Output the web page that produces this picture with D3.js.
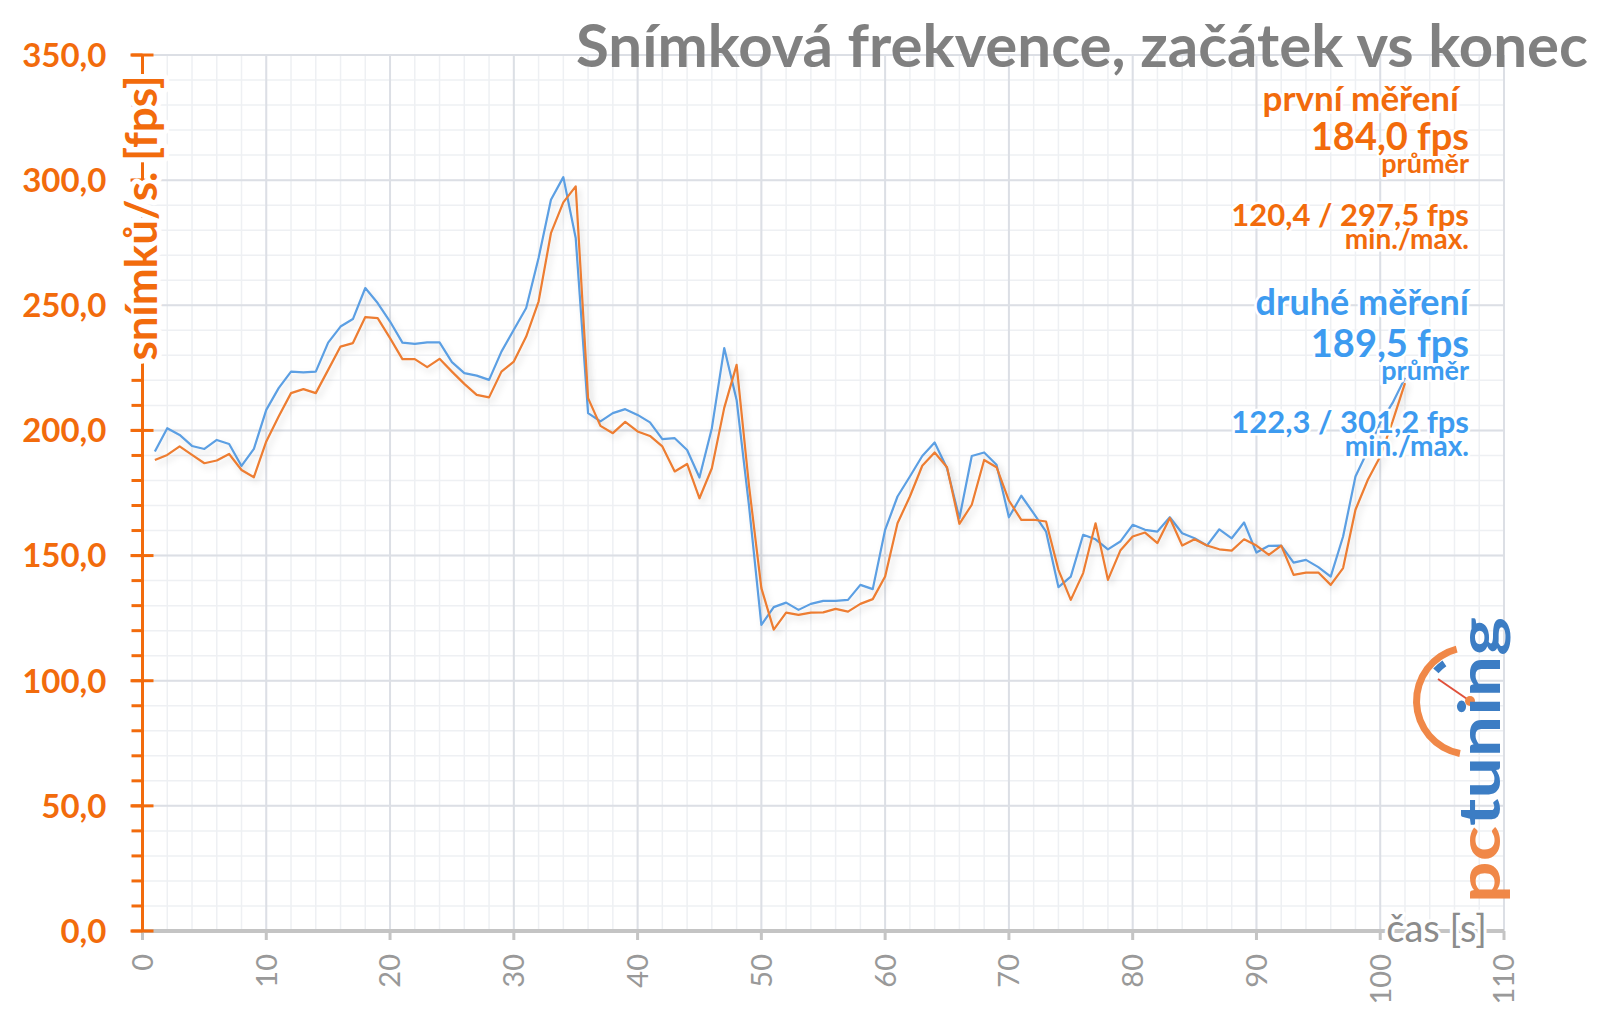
<!DOCTYPE html>
<html>
<head>
<meta charset="utf-8">
<script src="https://cdn.jsdelivr.net/npm/d3@7"></script>
<style>
  body { margin: 0; background: #fff; }
  svg { display: block; }
  text { font-family: Lato, "Open Sans", sans-serif; }
</style>
</head>
<body>
<svg id="vis" width="1600" height="1015"></svg>
<script>
// first measurement (orange), one value per second, t = 1..102
const FIRST = [
    188.2, 190.2, 193.6, 190.2, 186.9, 188.0, 190.6, 184.2, 181.3, 195.6,
    205.6, 214.9, 216.5, 214.9, 224.2, 233.5, 234.9, 245.3, 244.9, 236.9,
    228.5, 228.5, 225.3, 228.6, 223.5, 218.6, 214.2, 213.2, 223.5, 227.5,
    237.5, 251.5, 278.8, 291.1, 297.5, 212.9, 201.8, 198.9, 203.4, 199.6,
    197.8, 193.6, 183.6, 186.6, 172.9, 184.9, 209.0, 226.2, 178.0, 137.0,
    120.4, 127.2, 126.3, 127.2, 127.3, 128.7, 127.6, 130.7, 132.6, 141.6,
    162.9, 173.6, 185.9, 191.2, 185.3, 162.7, 170.3, 188.2, 185.3, 172.0,
    164.3, 164.3, 163.6, 144.3, 132.3, 143.0, 162.9, 140.3, 152.0, 157.6,
    159.2, 155.0, 165.0, 154.0, 156.5, 154.0, 152.5, 152.0, 156.5, 154.0,
    150.3, 154.0, 142.3, 143.2, 143.2, 138.3, 145.0, 168.3, 180.3, 189.6,
    203.6, 218.9
];
// second measurement (blue)
const SECOND = [
    191.6, 200.9, 198.2, 193.8, 192.6, 196.2, 194.6, 185.8, 192.6, 208.2,
    216.9, 223.5, 223.2, 223.5, 235.1, 241.5, 244.5, 256.9, 250.9, 243.5,
    235.1, 234.6, 235.2, 235.2, 227.3, 222.9, 221.9, 220.2, 231.5, 240.2,
    248.9, 268.9, 292.2, 301.2, 276.9, 206.9, 203.6, 206.9, 208.5, 206.2,
    203.2, 196.5, 196.9, 192.2, 181.2, 200.9, 232.9, 212.2, 170.0, 122.3,
    129.4, 131.2, 128.3, 130.7, 131.9, 131.9, 132.3, 138.3, 136.6, 160.3,
    173.6, 181.6, 189.8, 195.2, 184.9, 164.9, 189.8, 191.2, 186.3, 165.3,
    173.9, 166.9, 159.6, 137.4, 141.6, 158.3, 156.5, 152.5, 155.6, 162.3,
    160.3, 159.6, 165.3, 158.9, 156.9, 154.0, 160.5, 156.9, 163.2, 151.2,
    153.9, 154.0, 147.2, 148.3, 145.4, 141.6, 157.6, 181.6, 192.0, 203.0,
    211.0, 221.0
];
const SECONDS = d3.range(1, FIRST.length + 1);

const Y_TICKS = [0, 50, 100, 150, 200, 250, 300, 350];
const X_TICKS = [0, 10, 20, 30, 40, 50, 60, 70, 80, 90, 100, 110];

const TITLE = "Snímková frekvence, začátek vs konec";
const Y_TITLE = "snímků/s. [fps]";
const X_TITLE = "čas [s]";

const LEGEND_FIRST = ["první měření", "184,0 fps", "průměr", "120,4 / 297,5 fps", "min./max."];
const LEGEND_SECOND = ["druhé měření", "189,5 fps", "průměr", "122,3 / 301,2 fps", "min./max."];

const ORANGE = "#ED7D31";
const BLUE = "#5B9FE3";
const ORANGE_TXT = "#F26B0C";
const BLUE_TXT = "#3D9BF0";
const GREY = "#8c8c8c";

const svg = d3.select("#vis");
const xscale = d3.scaleLinear().domain([0, 110]).range([142.5, 1504]);
const yscale = d3.scaleLinear().domain([0, 350]).range([931, 55]);

const fmt = d => d3.format(".1f")(d).replace(".", ",");

function halo(sel, w) {
    return sel.attr("stroke", "#fff").attr("stroke-width", w)
        .attr("stroke-linejoin", "round").attr("paint-order", "stroke");
}

function main() {
    drawGrid();
    drawLines();
    drawAxes();
    drawLegend();
    drawLogo();
}

function drawGrid() {
    const g = svg.append("g");
    // minor grid
    g.selectAll(".vminor").data(d3.range(0, 111, 2)).join("line")
        .attr("x1", d => xscale(d)).attr("x2", d => xscale(d))
        .attr("y1", yscale(0)).attr("y2", yscale(350))
        .attr("stroke", "#eef0f3").attr("stroke-width", 1.5);
    g.selectAll(".hminor").data(d3.range(0, 351, 10)).join("line")
        .attr("x1", xscale(0)).attr("x2", xscale(110))
        .attr("y1", d => yscale(d)).attr("y2", d => yscale(d))
        .attr("stroke", "#eef0f3").attr("stroke-width", 1.5);
    // major grid
    g.selectAll(".vmajor").data(X_TICKS).join("line")
        .attr("x1", d => xscale(d)).attr("x2", d => xscale(d))
        .attr("y1", yscale(0)).attr("y2", yscale(350))
        .attr("stroke", "#dcdfe5").attr("stroke-width", 2);
    g.selectAll(".hmajor").data(Y_TICKS).join("line")
        .attr("x1", xscale(0)).attr("x2", xscale(110))
        .attr("y1", d => yscale(d)).attr("y2", d => yscale(d))
        .attr("stroke", "#dcdfe5").attr("stroke-width", 2);
}

function drawLines() {
    const defs = svg.append("defs");
    defs.append("filter").attr("id", "shadow")
        .attr("x", "-5%").attr("y", "-5%").attr("width", "110%").attr("height", "120%")
        .append("feDropShadow")
        .attr("dx", 3).attr("dy", 4).attr("stdDeviation", 3)
        .attr("flood-color", "#000").attr("flood-opacity", 0.13);

    const line = d3.line().x(d => xscale(d[0])).y(d => yscale(d[1]));
    const series = [
        {values: SECOND, color: BLUE},
        {values: FIRST, color: ORANGE}
    ];
    svg.selectAll(".series").data(series).join("path")
        .attr("class", "series")
        .attr("d", d => line(d.values.map((v, i) => [SECONDS[i], v])))
        .attr("fill", "none")
        .attr("stroke", d => d.color)
        .attr("stroke-width", 2.2)
        .attr("stroke-linejoin", "round")
        .attr("filter", "url(#shadow)");
}

function drawAxes() {
    // x axis
    const xg = svg.append("g").attr("transform", `translate(0,${yscale(0)})`);
    xg.append("line")
        .attr("x1", xscale(0)).attr("x2", xscale(110))
        .attr("stroke", "#c4c4c4").attr("stroke-width", 4);
    xg.selectAll(".xtick").data(X_TICKS).join("line")
        .attr("x1", d => xscale(d)).attr("x2", d => xscale(d))
        .attr("y1", 0).attr("y2", 9)
        .attr("stroke", "#c4c4c4").attr("stroke-width", 3);
    xg.selectAll(".xlabel").data(X_TICKS).join("text")
        .attr("transform", d => `translate(${xscale(d)},23) rotate(-90)`)
        .attr("text-anchor", "end")
        .attr("dy", "0.36em")
        .attr("fill", "#999")
        .style("font-size", "29px")
        .text(d => d);
    halo(svg.append("text")
        .attr("x", 1487).attr("y", 942)
        .attr("text-anchor", "end")
        .attr("fill", GREY)
        .style("font-size", "38px")
        .text(X_TITLE), 6);

    // y axis
    const yg = svg.append("g").attr("transform", `translate(${xscale(0)},0)`);
    yg.append("line")
        .attr("y1", yscale(0)).attr("y2", yscale(350))
        .attr("stroke", ORANGE_TXT).attr("stroke-width", 3);
    yg.selectAll(".yminor").data(d3.range(0, 351, 10)).join("line")
        .attr("x1", -11).attr("x2", 0)
        .attr("y1", d => yscale(d)).attr("y2", d => yscale(d))
        .attr("stroke", ORANGE_TXT).attr("stroke-width", 3);
    yg.selectAll(".ymajor").data(Y_TICKS).join("line")
        .attr("x1", -12).attr("x2", 11)
        .attr("y1", d => yscale(d)).attr("y2", d => yscale(d))
        .attr("stroke", ORANGE_TXT).attr("stroke-width", 3);
    yg.selectAll(".ylabel").data(Y_TICKS).join("text")
        .attr("x", -36).attr("y", d => yscale(d))
        .attr("dy", "0.36em")
        .attr("text-anchor", "end")
        .attr("fill", ORANGE_TXT)
        .style("font-size", "33px").style("font-weight", 700)
        .text(fmt);
    halo(yg.append("text")
        .attr("transform", `translate(14,218) rotate(-90)`)
        .attr("text-anchor", "middle")
        .attr("fill", ORANGE_TXT)
        .style("font-size", "44px").style("font-weight", 700)
        .text(Y_TITLE), 10);

    // title
    svg.append("text")
        .attr("x", 1588).attr("y", 67)
        .attr("text-anchor", "end")
        .attr("textLength", 1012).attr("lengthAdjust", "spacingAndGlyphs")
        .attr("fill", "#808080")
        .style("font-size", "59px").style("font-weight", 700)
        .text(TITLE);
}

function drawLegend() {
    const rows = [
        {text: LEGEND_FIRST[0], y: 111, size: 35, color: ORANGE_TXT, dx: -10},
        {text: LEGEND_FIRST[1], y: 150, size: 38, color: ORANGE_TXT, dx: 0},
        {text: LEGEND_FIRST[2], y: 173, size: 27, color: ORANGE_TXT, dx: 0},
        {text: LEGEND_FIRST[3], y: 226, size: 31, color: ORANGE_TXT, dx: 0},
        {text: LEGEND_FIRST[4], y: 249, size: 28, color: ORANGE_TXT, dx: 0},
        {text: LEGEND_SECOND[0], y: 315, size: 36, color: BLUE_TXT, dx: 0},
        {text: LEGEND_SECOND[1], y: 357, size: 38, color: BLUE_TXT, dx: 0},
        {text: LEGEND_SECOND[2], y: 380, size: 27, color: BLUE_TXT, dx: 0},
        {text: LEGEND_SECOND[3], y: 433, size: 31, color: BLUE_TXT, dx: 0},
        {text: LEGEND_SECOND[4], y: 456, size: 28, color: BLUE_TXT, dx: 0}
    ];
    halo(svg.selectAll(".legend").data(rows).join("text")
        .attr("class", "legend")
        .attr("x", d => 1469 + d.dx).attr("y", d => d.y)
        .attr("text-anchor", "end")
        .attr("fill", d => d.color)
        .style("font-size", d => d.size + "px").style("font-weight", 700)
        .text(d => d.text), 5);
}

function drawLogo() {
    const g = svg.append("g");
    const cx = 1470, cy = 701;
    g.append("path")
        .attr("transform", `translate(${cx},${cy})`)
        .attr("d", d3.arc().innerRadius(50).outerRadius(57)
            .startAngle(-Math.PI * 0.94).endAngle(-Math.PI * 0.08)())
        .attr("fill", "#F08848");
    g.append("path")
        .attr("transform", `translate(${cx},${cy})`)
        .attr("d", d3.arc().innerRadius(42).outerRadius(49)
            .startAngle(-Math.PI * 0.27).endAngle(-Math.PI * 0.19)())
        .attr("fill", "#3C7DC4");
    g.append("line")
        .attr("x1", cx).attr("y1", cy).attr("x2", cx - 32).attr("y2", cy - 22)
        .attr("stroke", "#E0503A").attr("stroke-width", 2);
    g.append("circle").attr("cx", cx).attr("cy", cy).attr("r", 5).attr("fill", "#F08848");

    const t = g.append("text")
        .attr("transform", "translate(1500,903) rotate(-90)")
        .attr("textLength", 286).attr("lengthAdjust", "spacingAndGlyphs")
        .style("font-size", "58px").style("font-weight", 700);
    t.append("tspan").attr("fill", "#F08848").text("pc");
    t.append("tspan").attr("fill", "#3C7DC4").text("tuning");
}

main();
</script>
</body>
</html>
